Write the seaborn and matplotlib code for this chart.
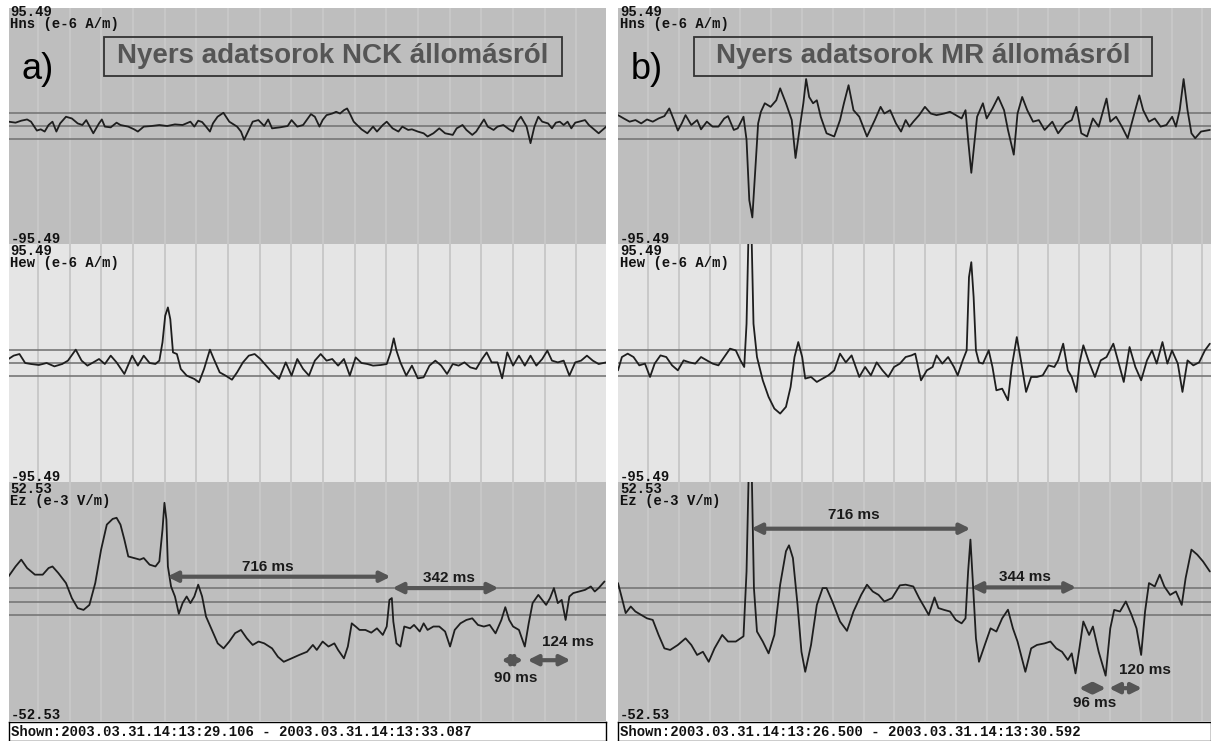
import numpy as np
import matplotlib
matplotlib.use("Agg")
import matplotlib.pyplot as plt
from matplotlib.patches import Rectangle
import seaborn as sns

sns.set_style("white")
plt.rcParams["font.family"] = ["Liberation Sans", "DejaVu Sans"]

# ---- NCK station (panel a), time in ms from start of window ----
nck_hns_t = [0, 47, 85, 124, 150, 189, 215, 241, 267, 293,
             319, 344, 383, 422, 461, 492, 518, 565, 603, 622,
             642, 681, 720, 746, 798, 837, 862, 901, 953, 1005,
             1057, 1109, 1160, 1212, 1238, 1264, 1290, 1316, 1342, 1362,
             1393, 1432, 1471, 1523, 1549, 1570, 1601, 1627, 1665, 1704,
             1730, 1756, 1808, 1860, 1886, 1924, 1963, 2015, 2041, 2072,
             2093, 2119, 2157, 2183, 2209, 2235, 2256, 2274, 2300, 2352,
             2391, 2429, 2455, 2494, 2520, 2559, 2598, 2624, 2663, 2688,
             2727, 2766, 2792, 2831, 2870, 2909, 2960, 2986, 3025, 3051,
             3090, 3116, 3168, 3193, 3232, 3258, 3297, 3336, 3362, 3388,
             3414, 3452, 3478, 3504, 3530, 3556, 3595, 3621, 3647, 3673,
             3699, 3725, 3750, 3776, 3802, 3841, 3867, 3893, 3932, 3983]
nck_hns = [3.5, 2.7, 4.3, 5.3, 3.5, -3.7, -2.7, -4.5, 0.8, 3.5,
           -4.5, 2.1, 7.5, 6.1, 2.1, 0.8, 4.8, -5.9, 2.1, 5.3,
           -0.5, -1.1, 2.7, 0.8, -0.5, -2.7, -4.5, -0.5, 0, 0.8,
           0, 1.3, 0.8, 3.5, -0.5, 4.3, 3.2, -0.5, -4.5, 2.1,
           7.5, 10.7, 3.5, -0.5, -4.5, -11.2, -3.2, 3.5, 4.8, 0,
           5.3, -1.9, -1.1, 0, 4.8, -0.5, 0.8, 9.6, 7.5, -0.5,
           4.8, 8.8, 10.1, 11.5, 10.1, 12.8, 14.2, 10.1, 3.5, -2.7,
           -5.9, -0.5, -4.5, 0.8, 3.5, -1.9, -4.5, -0.5, -3.2, -2.7,
           -4.5, -5.9, -8.5, -5.9, -1.9, -5.9, -7.2, -1.9, 0.8, -3.2,
           -7.2, -4.5, 5.3, -0.5, -3.2, -0.5, 0.8, -2.7, -4.5, 3.5,
           7.5, -0.5, -13.9, -0.5, 7.5, 3.5, 2.1, -1.9, 2.7, 3.5,
           0.8, 3.5, -1.9, 2.7, 3.5, 4.8, 0.8, -1.9, -5.9, -0.5]

nck_hew_t = [0, 34, 73, 111, 150, 202, 254, 306, 358, 396,
             448, 487, 526, 565, 603, 642, 681, 720, 772, 824,
             862, 901, 940, 979, 1005, 1026, 1044, 1062, 1078, 1096,
             1122, 1148, 1187, 1238, 1269, 1303, 1342, 1368, 1407, 1446,
             1489, 1523, 1562, 1601, 1640, 1678, 1717, 1756, 1803, 1847,
             1886, 1924, 1963, 2002, 2041, 2080, 2119, 2157, 2196, 2235,
             2274, 2313, 2352, 2391, 2429, 2481, 2520, 2546, 2567, 2585,
             2611, 2650, 2688, 2727, 2766, 2805, 2844, 2883, 2922, 2960,
             2999, 3038, 3077, 3116, 3155, 3186, 3219, 3258, 3289, 3323,
             3362, 3401, 3440, 3478, 3517, 3556, 3590, 3621, 3660, 3699,
             3737, 3776, 3815, 3854, 3893, 3932, 3983]
nck_hew = [3.2, 5.9, 7.2, 0, -0.8, -1.6, 0, -2.7, -0.8, 1.9,
           10.7, 1.9, -2.1, 0.5, 3.2, -0.8, 5.9, 0.5, -8.8, 5.9,
           -2.1, 5.9, 0, -0.8, 1.9, 16.6, 37.9, 44.6, 35.2, 8.5,
           7.2, -4.8, -10.1, -12.8, -15.5, -4.8, 10.7, 3.2, -7.5, -10.1,
           -13.4, -7.5, 0.5, 5.9, 7.2, 3.2, -2.1, -7.5, -12.8, 0.5,
           -10.1, 3.2, -4.8, -10.1, 1.9, 7.2, 1.9, 3.2, -2.1, 3.2,
           -10.1, 4.5, 0, -0.8, -2.1, -1.6, -0.8, 8.5, 19.8, 9.9,
           0.5, -10.1, -2.1, -12.3, -11.5, -2.1, 1.9, -2.1, -8.8, -0.8,
           -2.1, 0.5, -3.5, -4.8, 3.2, 8.5, 0.5, 0.5, -12.3, 8.5,
           -2.1, 5.9, -2.1, 5.9, -2.1, 3.2, 9.9, 1.9, 0.5, 1.9,
           -10.1, 0.5, 1.9, 5.9, 1.9, -0.8, 0.5]

nck_ez_t = [0, 47, 85, 124, 176, 228, 267, 293, 332, 383,
            422, 461, 500, 539, 578, 617, 655, 694, 720, 746,
            772, 798, 837, 875, 901, 940, 979, 1005, 1026, 1039,
            1052, 1062, 1083, 1109, 1135, 1160, 1187, 1212, 1238, 1264,
            1290, 1316, 1355, 1394, 1433, 1471, 1510, 1549, 1588, 1627,
            1666, 1704, 1756, 1795, 1834, 1886, 1937, 1989, 2028, 2054,
            2093, 2132, 2171, 2196, 2235, 2261, 2287, 2313, 2339, 2378,
            2417, 2455, 2494, 2520, 2538, 2554, 2564, 2585, 2611, 2637,
            2676, 2702, 2740, 2766, 2792, 2831, 2870, 2909, 2942, 2973,
            3011, 3051, 3090, 3128, 3167, 3206, 3245, 3284, 3310, 3336,
            3362, 3401, 3440, 3466, 3492, 3530, 3556, 3582, 3608, 3634,
            3660, 3686, 3712, 3737, 3763, 3802, 3841, 3880, 3906, 3932,
            3971]
nck_ez = [11.0, 15.4, 18.4, 14.7, 11.8, 11.8, 14.7, 15.4, 12.5, 8.1,
          1.5, -2.9, -3.7, -1.5, 8.1, 22.8, 33.8, 36.3, 36.8, 33.8,
          27.2, 19.8, 19.1, 18.4, 19.1, 16.2, 15.4, 17.6, 31.6, 43.4,
          36.0, 15.4, 6.6, 2.2, -5.4, -0.7, 2.2, -0.7, 2.2, 7.4,
          2.2, -6.6, -12.5, -18.4, -20.6, -17.6, -13.9, -12.5, -16.2, -19.1,
          -17.6, -18.4, -20.6, -24.3, -26.5, -25.0, -23.5, -22.1, -19.1, -21.3,
          -17.6, -19.8, -18.4, -21.3, -25.0, -19.8, -9.6, -11.0, -12.5, -12.5,
          -13.7, -11.8, -14.7, -11.0, 0.7, 1.5, -8.8, -18.4, -19.8, -11.0,
          -11.8, -10.3, -13.2, -9.6, -12.5, -11.0, -11.0, -13.2, -19.8, -12.5,
          -9.6, -8.1, -7.4, -10.3, -11.0, -10.3, -14.0, -8.1, -2.5, -8.1,
          -11.0, -12.5, -19.8, -9.6, -0.7, 2.9, 0.7, -1.5, 1.5, 5.9,
          -0.7, 0.7, -8.1, 2.2, 3.7, 4.4, 5.1, 6.6, 4.4, 5.9,
          8.8]

# ---- MR station (panel b) ----
mr_hns_t = [0, 40, 80, 120, 160, 200, 240, 280, 320, 354,
            386, 413, 440, 466, 506, 546, 573, 613, 653, 693,
            733, 759, 799, 826, 866, 887, 906, 927, 946, 967,
            986, 1013, 1053, 1092, 1119, 1159, 1199, 1225, 1252, 1279,
            1298, 1319, 1346, 1372, 1399, 1439, 1492, 1532, 1559, 1591,
            1625, 1665, 1718, 1772, 1812, 1838, 1878, 1918, 1953, 1985,
            2011, 2038, 2078, 2118, 2158, 2198, 2251, 2291, 2331, 2371,
            2398, 2416, 2438, 2459, 2478, 2518, 2544, 2584, 2624, 2664,
            2691, 2731, 2757, 2789, 2824, 2864, 2904, 2944, 2997, 3037,
            3091, 3131, 3163, 3197, 3237, 3277, 3317, 3371, 3397, 3437,
            3477, 3517, 3557, 3597, 3624, 3664, 3704, 3744, 3784, 3824,
            3850, 3876, 3903, 3930, 3957, 3983, 4023, 4084]
mr_hns = [8.8, 6.1, 3.5, 4.8, 2.1, 5.3, 3.5, 6.1, 8.0, 14.2,
          4.8, -3.7, 2.1, 8.8, 0.8, 4.8, -2.7, 3.5, -0.5, -0.5,
          6.1, 8.0, -3.2, -1.9, 7.5, -11.2, -60, -74, -38, 2.1,
          11.5, 18.4, 15.5, 20.8, 30.5, 18.4, 4.8, -25.9, -3.2, 18.4,
          38, 23.5, 18.4, 20.8, 7.5, -5.9, -8.5, 4.8, 18.4, 33,
          12.8, 7.5, -8.5, 4.8, 15.5, 10.1, 12.8, 2.1, -4.5, 4.8,
          -0.5, 3.5, 8.8, 15.5, 10.1, 8.8, 10.1, 11.5, 8.8, 6.1,
          12.8, -11.2, -37.9, -13.9, 7.5, 18.4, 6.1, 14.2, 23.5, 12.8,
          -3.2, -23.2, 10.1, 23.5, 12.8, 3.5, 4.8, -3.2, 3.5, -5.9,
          2.1, 4.8, 15.5, -5.9, -8.5, 6.1, -0.5, 22.2, 3.5, 7.5,
          -0.5, -9.9, 7.5, 24.8, 12.8, 3.5, 6.1, -0.5, 0.8, 7.5,
          -0.5, 12.8, 38, 12.8, -5.9, -9.9, -4.5, -3.2]

mr_hew_t = [0, 27, 67, 107, 147, 186, 221, 253, 293, 333,
            373, 413, 453, 493, 533, 573, 613, 653, 693, 733,
            773, 813, 845, 871, 887, 903, 919, 935, 959, 999,
            1039, 1079, 1119, 1159, 1191, 1218, 1244, 1271, 1292, 1332,
            1372, 1412, 1452, 1492, 1532, 1572, 1612, 1665, 1705, 1745,
            1785, 1825, 1865, 1905, 1945, 1985, 2025, 2051, 2091, 2131,
            2171, 2198, 2238, 2278, 2318, 2344, 2379, 2406, 2422, 2438,
            2454, 2470, 2491, 2518, 2558, 2584, 2611, 2651, 2691, 2717,
            2752, 2784, 2816, 2851, 2891, 2931, 2971, 3011, 3037, 3072,
            3104, 3131, 3163, 3184, 3211, 3251, 3291, 3331, 3371, 3418,
            3456, 3490, 3530, 3570, 3610, 3650, 3685, 3717, 3757, 3791,
            3823, 3863, 3895, 3930, 3970, 4010, 4050, 4084]
mr_hew = [-5.9, 4.8, 7.5, 4.8, -1.9, -0.5, -11.2, -0.5, 6.1, 4.8,
          -1.9, -5.9, 2.1, 0.5, -0.5, 4.8, 2.1, -0.5, -1.9, 4.8,
          11.5, 10.1, 2.1, -3.2, 31.5, 117, 117, 31.5, 4.8, -13.9,
          -27.2, -36.6, -40.6, -35.2, -19.2, 4.8, 16.8, 4.8, -12.5, -11.2,
          -15.2, -12.5, -9.9, -5.9, 7.5, 0.5, 6.1, -11.2, -3.2, -9.9,
          0.5, -5.9, -11.2, -3.2, -0.5, 4.8, 6.1, 7.5, -13.9, -5.9,
          -3.2, 6.1, -0.5, 4.8, -3.2, -9.9, 2.1, 10.1, 68.9, 80.9,
          52.9, 10.1, 0.5, -0.5, 10.1, -3.2, -21.9, -20.6, -29.9, -3.2,
          20.8, -0.5, -23.2, -11.2, -11.2, -9.9, -1.9, -3.2, 2.1, 15.5,
          -5.9, -11.2, -23.2, -0.5, 14.2, 0.5, -11.2, 2.1, 4.8, 15.5,
          -0.5, -15.2, 12.8, -3.2, -13.9, 2.1, 10.1, -0.5, 16.8, -0.5,
          10.1, -0.5, -23.2, 2.1, -1.9, 0.5, 10.1, 15.5]

mr_ez_t = [0, 27, 53, 88, 120, 160, 200, 240, 280, 320,
           360, 413, 466, 506, 546, 586, 626, 666, 719, 759,
           813, 866, 887, 903, 922, 938, 959, 999, 1039, 1079,
           1119, 1159, 1180, 1207, 1239, 1266, 1292, 1332, 1372, 1412,
           1439, 1479, 1532, 1580, 1625, 1678, 1718, 1758, 1798, 1838,
           1891, 1945, 1985, 2038, 2078, 2118, 2144, 2184, 2211, 2251,
           2291, 2331, 2371, 2398, 2416, 2432, 2451, 2470, 2491, 2531,
           2571, 2611, 2651, 2691, 2725, 2757, 2811, 2851, 2891, 2944,
           2984, 3024, 3064, 3104, 3131, 3157, 3184, 3211, 3251, 3277,
           3317, 3365, 3397, 3424, 3464, 3504, 3544, 3578, 3610, 3637,
           3664, 3704, 3738, 3770, 3810, 3850, 3890, 3917, 3957, 3997,
           4037, 4084]
mr_ez = [8.1, 1.5, -5.1, -2.2, -4.4, -5.9, -7.4, -8.1, -14.7, -20.6,
         -21.3, -19.1, -16.2, -19.1, -23.5, -22.1, -26.5, -20.6, -14.7, -17.6,
         -17.6, -15.3, 13.2, 60, 60, 5.9, -13.2, -17.6, -22.8, -14.7,
         7.4, 22.1, 24.7, 19.1, -1.5, -22.1, -30.9, -19.1, -1.5, 5.9,
         5.9, 0, -8.8, -12.9, -4.4, 2.9, 7.4, 4.4, 2.9, 0,
         1.5, 7.1, 7.4, 6.6, 1.5, -2.9, -5.9, 1.8, -2.9, -3.7,
         -4.4, -8.1, -9.6, -7.4, 13.2, 27.2, 5.9, -16.2, -26.5, -19.1,
         -11.8, -13.2, -7.4, -3.6, -11.8, -17.6, -30.9, -20.6, -19.1, -18.4,
         -17.6, -20.6, -22.1, -25.7, -22.8, -31.6, -20.6, -8.8, -14.7, -11.0,
         -22.1, -32.6, -11.8, -3.7, -4.4, 0, -5.9, -11.8, -23.5, -4.4,
         8.1, 6.6, 11.8, 6.6, 2.9, 4.4, -1.5, 10.3, 22.8, 20.6,
         17.6, 13.2]

# interval markers on Ez: label, start ms, end ms, arrow level, label x, label y
nck_marks = [("716 ms", 1057, 2546, 10.9, 1730, 15.3),
             ("342 ms", 2558, 3265, 5.9, 2932, 10.4),
             ("90 ms", 3283, 3430, -25.8, 3378, -33.7),
             ("124 ms", 3458, 3745, -25.8, 3725, -17.9)]
mr_marks = [("716 ms", 919, 2432, 32.0, 1625, 38.2),
            ("344 ms", 2438, 3162, 6.2, 2811, 10.6),
            ("96 ms", 3181, 3367, -38.1, 3291, -44.8),
            ("120 ms", 3388, 3616, -38.1, 3636, -30.2)]

channels = ["Hns (e-6 A/m)", "Hew (e-6 A/m)", "Ez (e-3 V/m)"]
limits = [95.49, 95.49, 52.53]

panels = [
    dict(x0=8.5, x1=606, dur=3981, g0=197, gstep=211, letter="a)",
         title="Nyers adatsorok NCK állomásról", box=(0.160, 0.926),
         shown="Shown:2003.03.31.14:13:29.106 - 2003.03.31.14:13:33.087",
         data=[(nck_hns_t, nck_hns), (nck_hew_t, nck_hew), (nck_ez_t, nck_ez)],
         marks=nck_marks),
    dict(x0=618, x1=1211, dur=4092, g0=207, gstep=212.5, letter="b)",
         title="Nyers adatsorok MR állomásról", box=(0.128, 0.900),
         shown="Shown:2003.03.31.14:13:26.500 - 2003.03.31.14:13:30.592",
         data=[(mr_hns_t, mr_hns), (mr_hew_t, mr_hew), (mr_ez_t, mr_ez)],
         marks=mr_marks),
]

W, H = 1211, 741
strips = [(8, 244), (244, 482), (482, 721)]
bgs = ["#bebebe", "#e5e5e5", "#bebebe"]
gridc = ["#c9c9c9", "#c4c4c4", "#c9c9c9"]
mono = dict(family="Liberation Mono", fontweight="bold", fontsize=10,
            color="#111111", linespacing=0.82)

fig = plt.figure(figsize=(W / 100, H / 100), dpi=100)


def add_ax(x0, y0, x1, y1):
    return fig.add_axes([x0 / W, 1 - y1 / H, (x1 - x0) / W, (y1 - y0) / H])


for p in panels:
    for i, (top, bot) in enumerate(strips):
        ax = add_ax(p["x0"], top, p["x1"], bot)
        lim = limits[i]
        ax.set_facecolor(bgs[i])
        ax.set_xlim(0, p["dur"])
        ax.set_ylim(-lim, lim)
        ax.set_xticks([])
        ax.set_yticks([])
        for s in ax.spines.values():
            s.set_visible(False)
        for gx in np.arange(p["g0"], p["dur"], p["gstep"]):
            ax.axvline(gx, color=gridc[i], lw=1.2, zorder=1)
        for off in (-0.113, 0, 0.113):
            ax.axhline(off * lim, color="#777777", lw=1.2, zorder=2)
        t, v = p["data"][i]
        sns.lineplot(x=t, y=v, ax=ax, color="#1e1e1e", lw=1.3,
                     sort=False, estimator=None, zorder=3)

        # scale labels: previous strip's minimum stacked over this strip's header
        head = f"{lim:.2f}\n{channels[i]}"
        if i > 0:
            head = f"-{limits[i - 1]:.2f}\n" + head
            base = top + 23       # baseline of last line (channel name)
        else:
            base = top + 20
        fig.text((p["x0"] + 2) / W, 1 - base / H, head, va="baseline",
                 ha="left", **mono)

        if i == 0:
            ax.text(0.048, 0.738, p["letter"], transform=ax.transAxes,
                    ha="center", va="center", fontsize=26, color="black")
            bx0, bx1 = p["box"]
            ax.add_patch(Rectangle((bx0, 0.712), bx1 - bx0, 0.165,
                                   transform=ax.transAxes, fill=False,
                                   ec="#333333", lw=1.3, zorder=4))
            ax.text((bx0 + bx1) / 2, 0.796, p["title"], transform=ax.transAxes,
                    ha="center", va="center", fontsize=20, fontweight="bold",
                    color="#555555", zorder=5)
        if i == 2:
            fig.text((p["x0"] + 2) / W, 1 - (bot - 2) / H, f"-{lim:.2f}",
                     va="baseline", ha="left", **mono)
            for lab, a, b, lvl, lx, ly in p["marks"]:
                ax.annotate("", xy=(b, lvl), xytext=(a, lvl),
                            arrowprops=dict(arrowstyle="<|-|>", color="#555555",
                                            lw=3, mutation_scale=15,
                                            shrinkA=0, shrinkB=0), zorder=4)
                ax.text(lx, ly, lab, ha="center", va="center", fontsize=11,
                        fontweight="bold", color="#1a1a1a", zorder=5)

    sb = add_ax(p["x0"], 722, p["x1"], 741)
    sb.set_facecolor("white")
    sb.set_xticks([])
    sb.set_yticks([])
    for s in sb.spines.values():
        s.set_color("black")
        s.set_linewidth(1.0)
    sb.text(0.004, 0.45, p["shown"], transform=sb.transAxes, va="center",
            ha="left", family="Liberation Mono", fontweight="bold",
            fontsize=10, color="#111111")

fig.savefig("out.png", dpi=100, facecolor="white")
